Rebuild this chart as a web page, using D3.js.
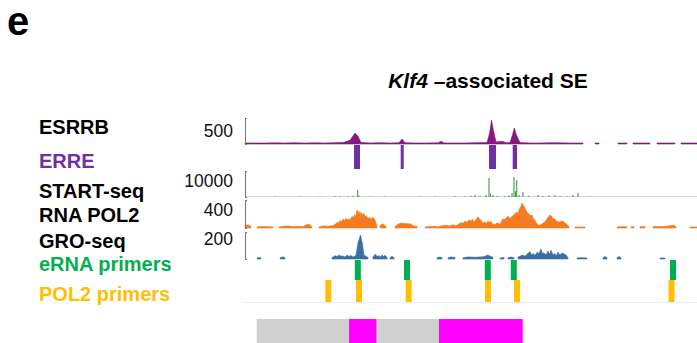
<!DOCTYPE html>
<html>
<head>
<meta charset="utf-8">
<script src="https://cdn.jsdelivr.net/npm/d3@7"></script>
<style>
  body { margin: 0; background: #fff; }
  svg { display: block; font-family: "Liberation Sans", Arial, sans-serif; }
</style>
</head>
<body>
<div id="chart"></div>
<script>
// region coordinates in kb from the left edge of the window

// ESRRB ChIP-seq signal [kb, value], null = no coverage
var esrrb = [
  [0,15],[1,20],[2,15],[3,22],[4,18],[5,25],[6,18],[7,22],[8,20],[9,25],[9.8,30],
  [10.5,70],[11.0,210],[11.3,150],[11.6,30],[12.5,20],[13.5,25],[14.5,18],
  [15.4,25],[15.7,95],[16.0,25],[17,20],[18,18],[19.3,22],[19.6,55],[19.9,20],
  [21,18],[22,20],[23,25],[24.2,30],[24.45,200],[24.65,460],[24.85,260],[25.1,40],
  [25.5,50],[25.8,50],[26.1,25],[26.5,30],[26.75,180],[26.93,310],[27.15,170],[27.5,30],
  [28.5,20],[29.5,18],[30.5,25],[31.5,22],[32.5,20],[33.8,18],[33.9,null],
  [35.0,15],[35.4,15],[35.5,null],[37.3,15],[38.2,15],[38.3,null],
  [38.8,15],[40.5,18],[40.6,null],[41.2,15],[43,15],[43.1,null],[43.6,15],[45.2,15]
];

// ERRE motif sites [start kb, end kb]
var erre = [[10.9,11.5],[15.57,15.87],[24.4,25.1],[26.77,27.2]];

// START-seq spikes [kb, value]
var startSeq = [
  [3.0,150],[5.5,150],[7.5,200],[9.0,250],[9.5,300],[10.3,250],[10.8,500],[11.27,2700],
  [11.4,600],[12.5,150],[14.0,150],[17.5,150],[19.0,200],[21.0,250],[22.0,300],[22.6,500],
  [23.0,900],[23.5,500],[24.1,800],[24.4,7300],[24.55,1200],[24.8,800],[25.2,400],[26.0,350],
  [26.4,700],[26.7,1500],[26.9,7700],[27.05,2200],[27.17,6500],[27.4,800],[27.8,1900],
  [28.4,500],[29.3,800],[29.8,400],[30.4,600],[31.0,700],[31.5,400],[32.2,300],[32.8,900],
  [33.3,1500],[34.5,150],[36,100]
];

// RNA POL2 ChIP-seq signal [kb, value]
var pol2 = [
  [0,40],[0.3,45],[0.6,20],[0.8,null],
  [1.2,15],[1.6,20],[2.0,22],[2.4,18],[2.8,15],[2.9,null],
  [3.4,15],[3.8,25],[4.3,28],[4.8,22],[5.3,25],[5.8,20],[6.2,50],[6.4,55],[6.7,15],[6.8,null],
  [7.4,15],[7.8,30],[8.3,25],[8.8,35],[9.0,50],[9.2,80],[9.35,70],[9.5,105],[9.65,95],
  [9.8,125],[9.95,110],[10.1,140],[10.25,115],[10.4,130],[10.55,120],[10.7,165],[10.85,150],
  [10.95,190],[11.1,175],[11.2,257],[11.3,215],[11.4,240],[11.5,200],[11.6,225],[11.7,180],
  [11.85,215],[12.0,165],[12.15,175],[12.3,140],[12.45,150],[12.6,125],[12.75,155],
  [12.9,135],[13.05,100],[13.2,20],[13.3,null],
  [13.5,30],[13.7,60],[13.9,50],[14.1,20],[14.2,null],
  [15.0,20],[15.3,55],[15.6,70],[16.0,65],[16.5,60],[16.9,30],[17.2,20],[17.3,null],
  [18.0,15],[18.5,20],[19.0,25],[19.3,15],[19.5,25],[20.0,40],[20.5,30],[20.8,45],[21.1,30],
  [21.4,60],[21.6,75],[21.8,70],[22.0,95],[22.2,85],[22.4,115],[22.6,105],[22.75,125],
  [22.9,90],[23.1,120],[23.3,160],[23.45,130],[23.6,110],[23.8,70],[24.0,85],[24.15,65],
  [24.3,105],[24.45,80],[24.6,95],[24.75,60],[24.9,45],[25.1,60],[25.3,75],[25.5,50],
  [25.7,115],[25.85,130],[26.0,120],[26.15,145],[26.3,170],[26.45,135],[26.6,150],
  [26.8,180],[27.0,205],[27.15,230],[27.3,215],[27.45,280],[27.6,310],[27.7,357],[27.8,330],
  [27.95,300],[28.1,255],[28.25,215],[28.4,200],[28.55,175],[28.7,185],[28.85,130],
  [29.0,110],[29.2,55],[29.4,40],[29.6,45],[29.8,70],[30.0,90],[30.2,130],[30.35,160],
  [30.5,185],[30.65,170],[30.8,130],[30.95,135],[31.1,100],[31.3,90],[31.5,85],[31.7,105],
  [31.85,90],[32.0,70],[32.2,50],[32.4,20],[32.6,null],
  [33.0,15],[33.5,15],[34.0,15],[34.2,null],
  [37.2,15],[37.8,20],[38.2,15],[38.3,null],[38.6,18],[38.9,20],[39.0,null],
  [39.5,18],[40.0,20],[40.2,null],[40.8,20],[41.5,22],[42.2,25],[42.6,35],[42.9,40],
  [43.1,15],[43.2,null],[44.5,15],[45.2,15]
];

// GRO-seq signal [kb, value]
var gro = [
  [1.2,8],[1.5,12],[1.6,8],[1.7,null],
  [3.5,8],[3.8,17],[4.0,8],[4.1,null],
  [8.7,10],[9.0,25],[9.2,18],[9.4,30],[9.6,20],[9.8,22],[10.0,15],[10.2,28],[10.4,20],
  [10.6,25],[10.9,15],[11.1,30],[11.3,120],[11.55,178],[11.75,110],[11.9,30],[12.1,20],
  [12.3,12],[12.4,null],
  [12.8,15],[13.0,35],[13.2,20],[13.4,25],[13.55,15],[13.7,30],[13.85,18],[14.0,28],
  [14.2,12],[14.3,null],
  [14.5,10],[14.7,20],[14.9,10],[15.0,null],
  [19.2,10],[19.5,15],[19.7,10],[19.8,null],
  [20.3,10],[20.6,15],[21.0,12],[21.2,null],
  [21.8,10],[22.3,15],[23.0,13],[23.5,15],[24.0,18],[24.2,30],[24.5,22],[24.8,12],[24.9,null],
  [25.5,8],[25.9,12],[26.0,null],[26.3,10],[26.6,15],[26.9,10],[27.0,null],
  [27.3,15],[27.6,25],[27.8,30],[28.0,20],[28.2,35],[28.5,55],[28.65,30],[28.8,40],
  [29.0,28],[29.2,50],[29.4,40],[29.6,74],[29.75,40],[29.9,45],[30.1,30],[30.3,60],
  [30.45,35],[30.6,65],[30.8,30],[31.0,40],[31.15,25],[31.3,50],[31.5,30],[31.7,45],
  [32.1,30],[32.3,10],[32.4,null],
  [33.2,8],[33.7,10],[34.2,8],[34.3,null],
  [35.8,10],[36.0,18],[36.2,10],[36.3,null],
  [37.2,10],[37.4,18],[37.6,10],[37.7,null],
  [41.5,6],[41.8,8],[42.0,6]
];

// primer positions (kb)
var ernaPrimers = [11.28, 16.2, 24.28, 26.88, 42.8];
var pol2Primers = [8.33, 11.4, 16.37, 24.3, 27.2, 42.65];

// constituent enhancer blocks [start, end, kind]
var blocks = [[1.17,10.4,"re"],[10.4,13.17,"se"],[13.17,19.4,"re"],[19.4,27.77,"se"]];

var trackNames = ["ESRRB", "START-seq", "RNA POL2", "GRO-seq"];
var trackMax = [500, 10000, 400, 200];

var W = 697, H = 343;
var svg = d3.select("#chart").append("svg").attr("width", W).attr("height", H);

var x = d3.scaleLinear().domain([0, 45.2]).range([245, 697]);

// letter + title
svg.append("text").attr("x", 7).attr("y", 35)
  .attr("font-size", 40).attr("font-weight", "bold").text("e");

var title = svg.append("text").attr("x", 488).attr("y", 88)
  .attr("text-anchor", "middle").attr("font-size", 21).attr("font-weight", "bold");
title.append("tspan").attr("font-style", "italic").text("Klf4");
title.append("tspan").text(" \u2013associated SE");

// signal tracks
var tracks = [
  {data: esrrb, top: 118, base: 144, color: "#84197f", labelY: 134, tickY: 137},
  {data: startSeq, top: 171, base: 197, color: "#3f9b3f", labelY: 198, tickY: 187},
  {data: pol2, top: 200, base: 228, color: "#f47b20", labelY: 222, tickY: 216},
  {data: gro, top: 232, base: 259, color: "#3a6fa0", labelY: 248, tickY: 245}
];

tracks.forEach(function(t, i) {
  var y = d3.scaleLinear().domain([0, trackMax[i]]).range([t.base, t.top]);
  var g = svg.append("g");

  if (i == 1) {
    // START-seq: baseline plus thin spikes
    g.append("line").attr("x1", x(0)).attr("x2", x(45.2))
      .attr("y1", t.base - 0.5).attr("y2", t.base - 0.5)
      .attr("stroke", "#d4d4d4").attr("stroke-width", 1);
    g.selectAll("line.spike").data(t.data).enter().append("line")
      .attr("class", "spike")
      .attr("x1", function(d) { return x(d[0]); })
      .attr("x2", function(d) { return x(d[0]); })
      .attr("y1", t.base)
      .attr("y2", function(d) { return y(d[1]); })
      .attr("stroke", t.color).attr("stroke-width", 1.1);
  } else {
    var area = d3.area()
      .defined(function(d) { return d[1] != null; })
      .x(function(d) { return x(d[0]); })
      .y0(t.base)
      .y1(function(d) { return Math.min(y(d[1]), t.base - 1); });
    g.append("path").datum(t.data).attr("d", area)
      .attr("fill", t.color).attr("stroke", t.color).attr("stroke-width", 0.6);
  }

  // axis bracket
  var ax = d3.axisRight(y).tickValues([0, trackMax[i]]).tickSize(2).tickSizeOuter(0).tickFormat("");
  svg.append("g").attr("transform", "translate(245,0)").call(ax)
    .call(function(s) { s.selectAll("path, line").attr("stroke", "#777").attr("stroke-width", 1); });

  svg.append("text").attr("x", 233).attr("y", t.tickY).attr("text-anchor", "end")
    .attr("font-size", 17.5).attr("fill", "#111").text(d3.format("d")(trackMax[i]));

  svg.append("text").attr("x", 39).attr("y", t.labelY)
    .attr("font-size", 20).attr("font-weight", "bold").attr("fill", "#000").text(trackNames[i]);
});

// ERRE motifs
svg.append("g").selectAll("rect").data(erre).enter().append("rect")
  .attr("x", function(d) { return x(d[0]); })
  .attr("width", function(d) { return x(d[1]) - x(d[0]); })
  .attr("y", 145).attr("height", 24).attr("fill", "#7030a0");
svg.append("text").attr("x", 39).attr("y", 168).attr("font-size", 20)
  .attr("font-weight", "bold").attr("fill", "#7030a0").text("ERRE");

// primers
var pw = 0.6;
svg.append("g").selectAll("rect").data(ernaPrimers).enter().append("rect")
  .attr("x", function(d) { return x(d - pw / 2); })
  .attr("width", x(pw) - x(0))
  .attr("y", 260).attr("height", 20).attr("fill", "#00b050");
svg.append("text").attr("x", 39).attr("y", 271).attr("font-size", 20)
  .attr("font-weight", "bold").attr("fill", "#00b050").text("eRNA primers");

svg.append("g").selectAll("rect").data(pol2Primers).enter().append("rect")
  .attr("x", function(d) { return x(d - pw / 2); })
  .attr("width", x(pw) - x(0))
  .attr("y", 280).attr("height", 22).attr("fill", "#ffc000");
svg.append("text").attr("x", 39).attr("y", 301).attr("font-size", 20)
  .attr("font-weight", "bold").attr("fill", "#ffc000").text("POL2 primers");

svg.append("line").attr("x1", 244).attr("x2", W).attr("y1", 302.5).attr("y2", 302.5)
  .attr("stroke", "#ececec").attr("stroke-width", 1);

// enhancer blocks
svg.append("g").selectAll("rect").data(blocks).enter().append("rect")
  .attr("x", function(d) { return x(d[0]); })
  .attr("width", function(d) { return x(d[1]) - x(d[0]); })
  .attr("y", 319).attr("height", 30)
  .attr("fill", function(d) { return d[2] == "se" ? "#ff00ff" : "#d0d0d0"; });
</script>
</body>
</html>
